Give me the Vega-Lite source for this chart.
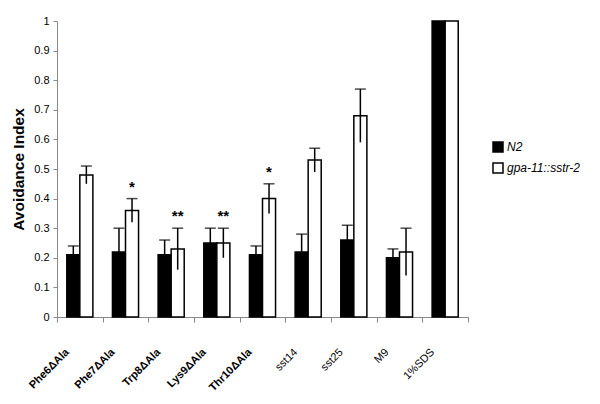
{
  "$schema": "https://vega.github.io/schema/vega-lite/v6.json",
  "width": 411,
  "height": 296,
  "autosize": {"type": "none"},
  "padding": {"left": 57, "top": 21, "right": 132, "bottom": 87},
  "background": "white",
  "config": {
    "view": {"stroke": null},
    "font": "Liberation Sans",
    "axis": {"grid": false, "domainColor": "#888", "tickColor": "#888", "labelColor": "#000", "titleColor": "#000"}
  },
  "data": {
    "values": [
      {"cat": "Phe6ΔAla", "grp": "N2", "val": 0.21, "lo": 0.18, "hi": 0.24},
      {"cat": "Phe6ΔAla", "grp": "gpa-11::sstr-2", "val": 0.48, "lo": 0.45, "hi": 0.51},
      {"cat": "Phe7ΔAla", "grp": "N2", "val": 0.22, "lo": 0.14, "hi": 0.30},
      {"cat": "Phe7ΔAla", "grp": "gpa-11::sstr-2", "val": 0.36, "lo": 0.32, "hi": 0.40, "star": "*"},
      {"cat": "Trp8ΔAla", "grp": "N2", "val": 0.21, "lo": 0.16, "hi": 0.26},
      {"cat": "Trp8ΔAla", "grp": "gpa-11::sstr-2", "val": 0.23, "lo": 0.16, "hi": 0.30, "star": "**"},
      {"cat": "Lys9ΔAla", "grp": "N2", "val": 0.25, "lo": 0.20, "hi": 0.30},
      {"cat": "Lys9ΔAla", "grp": "gpa-11::sstr-2", "val": 0.25, "lo": 0.20, "hi": 0.30, "star": "**"},
      {"cat": "Thr10ΔAla", "grp": "N2", "val": 0.21, "lo": 0.18, "hi": 0.24},
      {"cat": "Thr10ΔAla", "grp": "gpa-11::sstr-2", "val": 0.40, "lo": 0.35, "hi": 0.45, "star": "*"},
      {"cat": "sst14", "grp": "N2", "val": 0.22, "lo": 0.16, "hi": 0.28},
      {"cat": "sst14", "grp": "gpa-11::sstr-2", "val": 0.53, "lo": 0.49, "hi": 0.57},
      {"cat": "sst25", "grp": "N2", "val": 0.26, "lo": 0.21, "hi": 0.31},
      {"cat": "sst25", "grp": "gpa-11::sstr-2", "val": 0.68, "lo": 0.59, "hi": 0.77},
      {"cat": "M9", "grp": "N2", "val": 0.20, "lo": 0.17, "hi": 0.23},
      {"cat": "M9", "grp": "gpa-11::sstr-2", "val": 0.22, "lo": 0.14, "hi": 0.30},
      {"cat": "1%SDS", "grp": "N2", "val": 1.0},
      {"cat": "1%SDS", "grp": "gpa-11::sstr-2", "val": 1.0}
    ]
  },
  "encoding": {
    "x": {
      "field": "cat", "type": "nominal", "sort": null,
      "scale": {"paddingInner": 0, "paddingOuter": 0},
      "axis": {
        "title": null, "labelAngle": -45, "tickBand": "extent", "tickSize": 5,
        "labelFontSize": 11, "labelPadding": 24, "labelOffset": -17,
        "labelFontWeight": {"condition": {"test": "indexof(['sst14','sst25','M9','1%SDS'], datum.value) >= 0", "value": "normal"}, "value": "bold"}
      }
    },
    "xOffset": {"field": "grp", "type": "nominal", "sort": ["N2", "gpa-11::sstr-2"], "scale": {"paddingInner": 0, "paddingOuter": 0.75}}
  },
  "layer": [
    {
      "mark": {"type": "bar", "stroke": "black", "strokeWidth": 1.5},
      "encoding": {
        "y": {
          "field": "val", "type": "quantitative",
          "scale": {"domain": [0, 1], "nice": false},
          "axis": {"title": "Avoidance Index", "titleFontSize": 15.5, "titleFontWeight": "bold", "titlePadding": 7, "labelFontSize": 11, "tickCount": 10, "tickSize": 4, "labelPadding": 4, "format": "~g"}
        },
        "fill": {
          "field": "grp", "type": "nominal",
          "scale": {"domain": ["N2", "gpa-11::sstr-2"], "range": ["black", "white"]},
          "legend": {"title": null, "orient": "none", "legendX": 435, "legendY": 120, "symbolType": "square", "symbolSize": 100, "symbolStrokeColor": "black", "symbolStrokeWidth": 1.5, "labelFontSize": 12, "labelFontStyle": "italic", "rowPadding": 5, "labelOffset": 3}
        }
      }
    },
    {
      "transform": [{"filter": "isValid(datum.lo)"}],
      "mark": {"type": "rule", "color": "black", "strokeWidth": 1.5},
      "encoding": {
        "y": {"field": "lo", "type": "quantitative"},
        "y2": {"field": "hi"}
      }
    },
    {
      "transform": [{"filter": "isValid(datum.hi)"}],
      "mark": {"type": "tick", "color": "black", "thickness": 1.5, "size": 11, "orient": "horizontal"},
      "encoding": {
        "y": {"field": "hi", "type": "quantitative"}
      }
    },
    {
      "transform": [{"filter": "isValid(datum.star)"}],
      "mark": {"type": "text", "fontSize": 15, "fontWeight": "bold", "baseline": "alphabetic", "dy": -7},
      "encoding": {
        "y": {"field": "hi", "type": "quantitative"},
        "text": {"field": "star"}
      }
    }
  ]
}
